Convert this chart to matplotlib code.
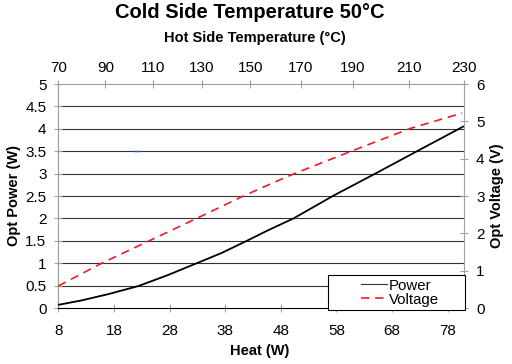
import numpy as np
import matplotlib
matplotlib.use("Agg")
import matplotlib.pyplot as plt
from matplotlib.patches import Rectangle

plt.rcParams["font.family"] = ["Liberation Sans", "DejaVu Sans"]

# datos
heat = [8, 12.2, 17.0, 22.4, 27.8, 32.9, 37.4, 41.9, 45.8, 50.3, 57.5, 65.0, 72.5, 80.8]
power = [0.07, 0.17, 0.31, 0.49, 0.74, 1.0, 1.23, 1.5, 1.74, 2.0, 2.51, 3.0, 3.5, 4.05]

heat_v = [8, 15.8, 24.2, 32.6, 41.0, 46.4, 50.3, 60.5, 71.3, 80.6]
voltage = [0.59, 1.2, 1.79, 2.38, 2.98, 3.34, 3.59, 4.19, 4.81, 5.22]

# eje superior: temperatura lado caliente vs calor
hot_ticks = [70, 90, 110, 130, 150, 170, 190, 210, 230]
hot_at_heat = [8, 16.45, 25.1, 33.8, 42.5, 51.6, 61.0, 71.0, 81.0]

heat_ticks = [8, 18, 28, 38, 48, 58, 68, 78]
power_ticks = [0, 0.5, 1, 1.5, 2, 2.5, 3, 3.5, 4, 4.5, 5]
volt_ticks = [0, 1, 2, 3, 4, 5, 6]

stray_x = [22.2]
stray_y = [3.5]

GRAY = "#a0a0a0"
W, H = 512, 364

fig = plt.figure(figsize=(W / 100, H / 100), dpi=100)
ax = fig.add_axes([58.3 / W, 1 - 308 / H, 406 / W, 224 / H])

ax.set_xlim(8, 81)
ax.set_ylim(0, 5)
ax.set_xticks(heat_ticks)
ax.set_yticks(power_ticks)
ax.set_yticklabels(["0", "0.5", "1", "1.5", "2", "2.5", "3", "3.5", "4", "4.5", "5"])
for y in power_ticks[1:-1]:
    ax.axhline(y, color="#333333", lw=0.8, zorder=1)

ax.plot(heat, power, color="black", lw=1.3, zorder=3, label="Power")
ax.plot(stray_x, stray_y, marker="_", color="#2060d0", ms=4, mew=1, ls="none", zorder=3)

for s in ["left", "right", "top"]:
    ax.spines[s].set_color(GRAY)
ax.spines["bottom"].set_color("black")
ax.spines["left"].set_linewidth(0.9)
ax.tick_params(axis="x", direction="inout", length=6, color=GRAY, labelsize=11, pad=8.5)
ax.tick_params(axis="y", direction="inout", length=6, color=GRAY, labelsize=11, pad=5.5)

ax2 = ax.twinx()
ax2.set_ylim(0, 6)
ax2.set_yticks(volt_ticks)
ln_v, = ax2.plot(heat_v, voltage, color="#ee1c24", lw=1.2, dashes=(5, 3.5), zorder=3, label="Voltage")
ax2.tick_params(axis="y", direction="inout", length=6, color=GRAY, labelsize=11, pad=5.5)
for s in ax2.spines.values():
    s.set_visible(False)

ax3 = ax.twiny()
ax3.set_xlim(ax.get_xlim())
ax3.set_xticks(hot_at_heat)
ax3.set_xticklabels([str(t) for t in hot_ticks])
ax3.tick_params(axis="x", direction="inout", length=6, color=GRAY, labelsize=11, pad=3.5)
for s in ax3.spines.values():
    s.set_visible(False)

# leyenda estilo Excel
box = Rectangle(((328 - 58.3) / 406, (308 - 310) / 224), (465 - 328) / 406, 35 / 224,
                transform=ax.transAxes, facecolor="white", edgecolor="black",
                lw=0.8, clip_on=False, zorder=10)
ax2.add_patch(box)
leg = ax2.legend([ax.lines[0], ln_v], ["Power", "Voltage"], loc="center",
                 bbox_to_anchor=(0.842, 0.069), frameon=False, fontsize=10.8,
                 handlelength=1.7, handletextpad=0.15, labelspacing=0.0,
                 borderpad=0)
leg.set_zorder(11)

fig.text(250 / W, 1 - 18 / H, "Cold Side Temperature 50°C", ha="center", va="baseline",
         fontsize=14.5, fontweight="bold")
fig.text(255 / W, 1 - 42 / H, "Hot Side Temperature (°C)", ha="center", va="baseline",
         fontsize=10.5, fontweight="bold")
fig.text(260 / W, 1 - 355 / H, "Heat (W)", ha="center", va="baseline",
         fontsize=10.5, fontweight="bold")
fig.text(14 / W, 1 - 196 / H, "Opt Power (W)", ha="center", va="center",
         rotation=90, fontsize=10.5, fontweight="bold")
fig.text(497 / W, 1 - 196 / H, "Opt Voltage (V)", ha="center", va="center",
         rotation=90, fontsize=10.5, fontweight="bold")

fig.savefig("out.png", dpi=100)
